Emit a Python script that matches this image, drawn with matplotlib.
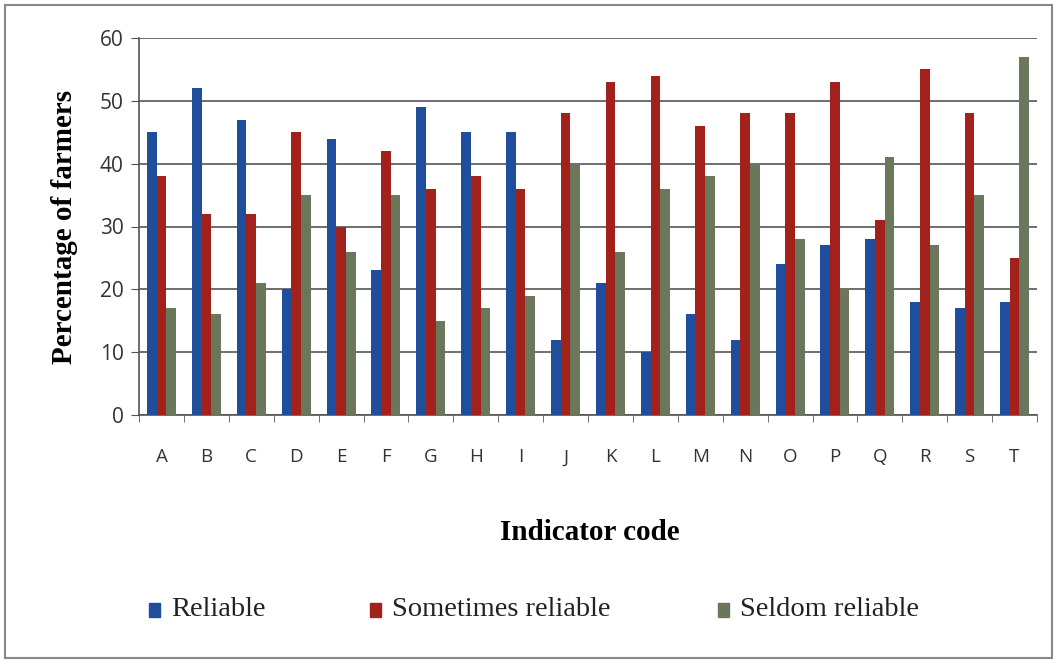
import matplotlib.pyplot as plt
import numpy as np
from matplotlib.patches import Rectangle

codes = list("ABCDEFGHIJKLMNOPQRST")
reliable = [45, 52, 47, 20, 44, 23, 49, 45, 45, 12, 21, 10, 16, 12, 24, 27, 28, 18, 17, 18]
sometimes = [38, 32, 32, 45, 30, 42, 36, 38, 36, 48, 53, 54, 46, 48, 48, 53, 31, 55, 48, 25]
seldom = [17, 16, 21, 35, 26, 35, 15, 17, 19, 40, 26, 36, 38, 40, 28, 20, 41, 27, 35, 57]

series = [("Reliable", reliable, "#1f4f9c"),
          ("Sometimes reliable", sometimes, "#a3211b"),
          ("Seldom reliable", seldom, "#6b775a")]

fig = plt.figure(figsize=(10.57, 6.63), dpi=100)
ax = fig.add_axes([139 / 1057, 1 - 415 / 663, 898 / 1057, 377 / 663])

x = np.arange(len(codes))
w = 0.215
for i, (name, vals, col) in enumerate(series):
    ax.bar(x + (i - 1) * w, vals, w, color=col, label=name, zorder=3)

ax.set_xlim(-0.5, len(codes) - 0.5)
ax.set_ylim(0, 60)
ax.set_yticks(range(0, 61, 10))
ax.yaxis.grid(True, color="#555555", linewidth=1.2, zorder=0)
ax.set_xticks(x)
ax.set_xticklabels(codes, family="Open Sans", fontsize=13.5, color="#333333")
ax.set_xticks(np.arange(-0.5, len(codes)), minor=True)
ax.tick_params(axis="x", which="major", length=0, pad=24)
ax.tick_params(axis="x", which="minor", length=5, color="#555555")
ax.tick_params(axis="y", length=6, color="#555555", labelsize=15, labelcolor="#333333", pad=5)
for lab in ax.get_yticklabels():
    lab.set_family("Open Sans")
for s in ["top", "right"]:
    ax.spines[s].set_visible(False)
for s in ["left", "bottom"]:
    ax.spines[s].set_color("#555555")
    ax.spines[s].set_linewidth(1.2)

ax.set_ylabel("Percentage of farmers", family="Liberation Serif", fontweight="bold", fontsize=21, labelpad=16)
fig.text(590 / 1057, 1 - 532 / 663, "Indicator code", family="Liberation Serif",
         fontweight="bold", fontsize=21, ha="center", va="center")

handles, labels = ax.get_legend_handles_labels()
leg_x = [149, 370, 718]
for hx, h, lab in zip(leg_x, handles, labels):
    fig.patches.append(Rectangle((hx / 1057, 1 - 617 / 663), 11 / 1057, 14 / 663,
                                 transform=fig.transFigure, color=h.patches[0].get_facecolor()))
    fig.text((hx + 22) / 1057, 1 - 609 / 663, lab, family="Liberation Serif",
             fontsize=20.5, ha="left", va="center", color="#222222")

fig.patches.append(Rectangle((5 / 1057, 5 / 663), 1047 / 1057, 653 / 663, transform=fig.transFigure,
                             fill=False, edgecolor="#888888", linewidth=1.5))

fig.savefig("out.png", dpi=100)
